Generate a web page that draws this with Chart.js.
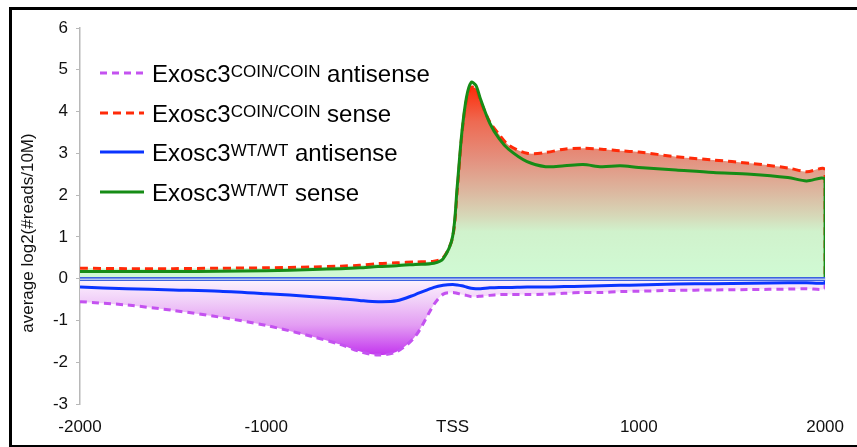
<!DOCTYPE html>
<html>
<head>
<meta charset="utf-8">
<script src="https://cdn.jsdelivr.net/npm/chart.js@4"></script>
<style>
  body { margin: 0; background: #fff; }
  #wrap { position: relative; width: 857px; height: 447px; }
  #frame { position: absolute; left: 9px; top: 7px; width: 860px; height: 435px;
           border-left: 3px solid #000; border-top: 3px solid #000; border-bottom: 2px solid #000;
           pointer-events: none; }
  #legend { position: absolute; left: 0; top: 0; font-family: "Liberation Sans", Arial, sans-serif; color: #000; }
  .row { position: absolute; left: 100px; height: 26px; white-space: nowrap; }
  .row svg { position: absolute; left: 0; }
  .row .txt { position: absolute; left: 52px; top: 0; font-size: 24px; line-height: 26px; }
  .row sup { font-size: 17px; vertical-align: baseline; position: relative; top: -5px; }
</style>
</head>
<body>
<div id="wrap">
  <canvas id="profileChart"></canvas>
  <div id="legend"></div>
  <div id="frame"></div>
</div>
<script>
// position relative to TSS (bp); the last point closes the area back to 0
var positions = [-2000, -1750, -1500, -1250, -1000, -750, -600, -500, -400, -300, -200, -100, -50,
    0, 25, 50, 75, 100, 125, 150, 200, 250, 300, 400, 500, 600, 700, 800, 900, 1000,
    1200, 1400, 1600, 1800, 1900, 2000, 2000];

var coinAntisense = [-0.55, -0.63, -0.76, -0.92, -1.12, -1.39, -1.58, -1.74, -1.83, -1.75, -1.38, -0.62, -0.37,
    -0.33, -0.35, -0.38, -0.40, -0.43, -0.43, -0.42, -0.40, -0.38, -0.38, -0.38, -0.37, -0.35, -0.33, -0.33, -0.31, -0.30,
    -0.28, -0.27, -0.26, -0.25, -0.24, -0.24, 0];
var coinSense = [0.25, 0.24, 0.24, 0.25, 0.26, 0.28, 0.30, 0.32, 0.36, 0.38, 0.40, 0.42, 0.50,
    0.98, 2.1, 3.45, 4.28, 4.58, 4.55, 4.25, 3.75, 3.45, 3.20, 3.00, 3.02, 3.10, 3.12, 3.10, 3.06, 3.03,
    2.92, 2.84, 2.76, 2.65, 2.56, 2.60, 0];
var wtAntisense = [-0.20, -0.24, -0.27, -0.30, -0.36, -0.43, -0.48, -0.52, -0.55, -0.53, -0.38, -0.21, -0.16,
    -0.14, -0.15, -0.17, -0.20, -0.23, -0.24, -0.24, -0.22, -0.21, -0.21, -0.20, -0.20, -0.19, -0.18, -0.17, -0.16, -0.15,
    -0.13, -0.12, -0.11, -0.10, -0.10, -0.10, 0];
var wtSense = [0.17, 0.17, 0.17, 0.18, 0.19, 0.22, 0.24, 0.26, 0.29, 0.31, 0.34, 0.37, 0.48,
    1.0, 2.2, 3.5, 4.35, 4.70, 4.63, 4.30, 3.72, 3.35, 3.10, 2.80, 2.68, 2.70, 2.73, 2.68, 2.70, 2.66,
    2.60, 2.54, 2.50, 2.42, 2.34, 2.37, 0];

var genotypes = ['COIN/COIN', 'COIN/COIN', 'WT/WT', 'WT/WT'];
var strands = ['antisense', 'sense', 'antisense', 'sense'];
var xTicks = [-2000, -1000, 0, 1000, 2000];
var yTitle = 'average log2(#reads/10M)';

var FONT = '"Liberation Sans", Arial, sans-serif';

function pts(values) {
    return values.map(function (v, i) { return { x: positions[i], y: v }; });
}

function senseFill(context) {
    var chart = context.chart;
    if (!chart.chartArea) return 'rgba(208,250,212,1)';
    var y = chart.scales.y;
    var g = chart.ctx.createLinearGradient(0, y.getPixelForValue(4.7), 0, y.getPixelForValue(0));
    g.addColorStop(0, '#ff2400');
    g.addColorStop(0.2, '#ee6a52');
    g.addColorStop(0.39, '#e4907e');
    g.addColorStop(0.56, '#dcb8a0');
    g.addColorStop(0.68, '#d6d8b8');
    g.addColorStop(0.76, '#d0f2cc');
    g.addColorStop(1, '#d0fad4');
    return g;
}

function antisenseFill(context) {
    var chart = context.chart;
    if (!chart.chartArea) return 'rgba(230,170,245,1)';
    var y = chart.scales.y;
    var g = chart.ctx.createLinearGradient(0, y.getPixelForValue(0), 0, y.getPixelForValue(-1.85));
    g.addColorStop(0, '#fdf4fe');
    g.addColorStop(0.3, '#f0cdf8');
    g.addColorStop(0.6, '#e39df3');
    g.addColorStop(1, '#c232ee');
    return g;
}

var zeroLine = {
    id: 'zeroLine',
    afterDatasetsDraw: function (chart) {
        var ctx = chart.ctx, a = chart.chartArea;
        var y0 = Math.round(chart.scales.y.getPixelForValue(0));
        ctx.save();
        ctx.fillStyle = '#3d62e0';
        ctx.fillRect(a.left, y0 - 2, a.right - a.left, 4);
        ctx.fillStyle = '#b4c4f2';
        ctx.fillRect(a.left, y0 - 0.5, a.right - a.left, 1.5);
        ctx.restore();
    }
};

// y title sits a bit below the middle of the axis in the original
var yAxisTitle = {
    id: 'yAxisTitle',
    afterDraw: function (chart) {
        var ctx = chart.ctx, a = chart.chartArea;
        ctx.save();
        ctx.translate(28, (a.top + a.bottom) / 2 + 17);
        ctx.rotate(-Math.PI / 2);
        ctx.font = '17px ' + FONT;
        ctx.fillStyle = '#111';
        ctx.textAlign = 'center';
        ctx.textBaseline = 'middle';
        ctx.fillText(yTitle, 0, 0);
        ctx.restore();
    }
};

var htmlLegend = {
    id: 'htmlLegend',
    afterUpdate: function (chart) {
        var box = document.getElementById('legend');
        box.innerHTML = '';
        chart.data.datasets.forEach(function (ds, i) {
            var row = document.createElement('div');
            row.className = 'row';
            row.style.top = (61 + i * 39.7) + 'px';
            var dash = ds.borderDash && ds.borderDash.length ? ds.borderDash.join(',') : 'none';
            row.innerHTML = '<svg width="46" height="26"><line x1="0" y1="12" x2="44" y2="12" stroke="' +
                ds.borderColor + '" stroke-width="3" stroke-dasharray="' + dash + '"/></svg>' +
                '<span class="txt">Exosc3<sup>' + ds.genotype + '</sup> ' + ds.strand + '</span>';
            box.appendChild(row);
        });
    }
};

var ctx = document.getElementById('profileChart').getContext('2d');
var myChart = new Chart(ctx, {
    type: 'line',
    data: {
        datasets: [
            {
                label: 'Exosc3 ' + genotypes[0] + ' ' + strands[0],
                genotype: genotypes[0], strand: strands[0],
                data: pts(coinAntisense),
                borderColor: '#c452f0',
                borderDash: [7, 5],
                backgroundColor: antisenseFill,
                fill: 'origin',
                order: 4
            },
            {
                label: 'Exosc3 ' + genotypes[1] + ' ' + strands[1],
                genotype: genotypes[1], strand: strands[1],
                data: pts(coinSense),
                borderColor: '#ff2a08',
                borderDash: [8, 5],
                backgroundColor: senseFill,
                fill: 'origin',
                order: 3
            },
            {
                label: 'Exosc3 ' + genotypes[2] + ' ' + strands[2],
                genotype: genotypes[2], strand: strands[2],
                data: pts(wtAntisense),
                borderColor: '#0a34ff',
                fill: false,
                order: 2
            },
            {
                label: 'Exosc3 ' + genotypes[3] + ' ' + strands[3],
                genotype: genotypes[3], strand: strands[3],
                data: pts(wtSense),
                borderColor: '#168c16',
                fill: false,
                order: 1
            }
        ]
    },
    options: {
        responsive: true,
        maintainAspectRatio: false,
        animation: false,
        layout: { padding: { left: 12, top: 28, right: 31, bottom: 0 } },
        elements: {
            point: { radius: 0 },
            line: { borderWidth: 3, tension: 0.3 }
        },
        plugins: {
            legend: { display: false },
            tooltip: { enabled: false }
        },
        scales: {
            x: {
                type: 'linear',
                min: -2000,
                max: 2000,
                afterFit: function (s) { s.height = 43; },
                afterBuildTicks: function (s) { s.ticks = xTicks.map(function (v) { return { value: v }; }); },
                grid: { display: false, drawTicks: false },
                border: { display: false },
                ticks: {
                    padding: 13,
                    color: '#111',
                    font: { family: FONT, size: 17 },
                    callback: function (v) { return v === 0 ? 'TSS' : String(v); }
                }
            },
            y: {
                min: -3,
                max: 6,
                afterFit: function (s) { s.width = 68; },
                ticks: {
                    stepSize: 1,
                    padding: 8,
                    color: '#111',
                    font: { family: FONT, size: 17 }
                },
                grid: {
                    drawOnChartArea: false,
                    tickLength: 4,
                    tickColor: '#b8b8b8'
                },
                border: { display: true, color: '#b8b8b8', width: 1.5 }
            }
        }
    },
    plugins: [zeroLine, yAxisTitle, htmlLegend]
});
</script>
</body>
</html>
